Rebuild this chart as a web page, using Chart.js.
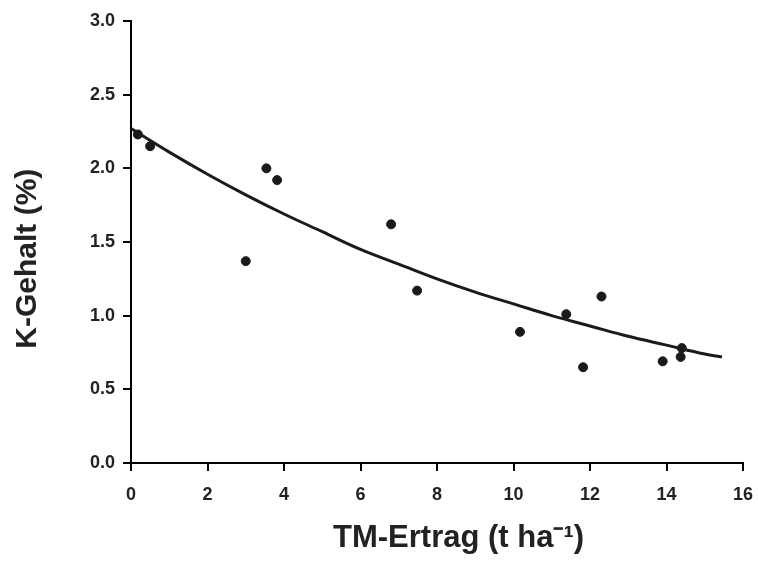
<!DOCTYPE html>
<html>
<head>
<meta charset="utf-8">
<script src="https://cdn.jsdelivr.net/npm/chart.js@4/dist/chart.umd.min.js"></script>
<style>
  html, body { margin: 0; padding: 0; background: #fff; }
</style>
</head>
<body>
<canvas id="chartK" width="758" height="561"></canvas>
<script>
// measured points
const ertrag = [0.18, 0.50, 3.00, 3.54, 3.82, 6.80, 7.48, 10.17, 11.38, 11.82, 12.30, 13.90, 14.37, 14.40]
const kGehalt = [2.23, 2.15, 1.37, 2.00, 1.92, 1.62, 1.17, 0.89, 1.01, 0.65, 1.13, 0.69, 0.72, 0.78]

// fitted curve
const kurveX = [0, 1, 2, 3, 4, 5, 6, 7, 8, 9, 10, 11, 12, 13, 14, 15, 15.45]
const kurveY = [2.27, 2.11, 1.96, 1.82, 1.69, 1.57, 1.45, 1.35, 1.25, 1.16, 1.08, 1.00, 0.93, 0.86, 0.80, 0.74, 0.72]

const xTicks = [0, 2, 4, 6, 8, 10, 12, 14, 16]
const yTicks = [0, 0.5, 1.0, 1.5, 2.0, 2.5, 3.0]

const black = '#000000'
const textColor = '#222222'
const fontName = '"Liberation Sans", Arial, sans-serif'

const ctx = document.getElementById('chartK')

new Chart(ctx, {
    type: 'scatter',
    data: {
        datasets: [{
            data: ertrag.map((x, i) => ({ x: x, y: kGehalt[i] })),
            backgroundColor: '#1a1a1a',
            borderColor: '#1a1a1a',
            pointRadius: 4.5,
            pointHoverRadius: 4.5,
            order: 1
        }, {
            data: kurveX.map((x, i) => ({ x: x, y: kurveY[i] })),
            showLine: true,
            borderColor: '#1a1a1a',
            borderWidth: 3,
            pointRadius: 0,
            tension: 0.4,
            fill: false,
            clip: false,
            order: 2
        }]
    },
    options: {
        responsive: false,
        animation: false,
        events: [],
        layout: {
            padding: { left: 6, right: 15, top: 21, bottom: 0 }
        },
        plugins: {
            legend: { display: false },
            tooltip: { enabled: false }
        },
        scales: {
            x: {
                type: 'linear',
                min: 0,
                max: 16,
                afterBuildTicks: axis => { axis.ticks = xTicks.map(v => ({ value: v })) },
                afterFit: axis => {
                    axis.height = 98
                    axis.paddingLeft = 0
                    axis.paddingRight = 0
                },
                border: { display: true, color: black, width: 2 },
                grid: { drawOnChartArea: false, drawTicks: true, tickLength: 8, color: black, lineWidth: 2 },
                ticks: {
                    color: textColor,
                    padding: 13,
                    maxRotation: 0,
                    font: { family: fontName, size: 18, weight: 'bold' }
                },
                title: {
                    display: true,
                    // leading spaces push the title a bit right, as in the original
                    text: '     TM-Ertrag (t ha⁻¹)',
                    color: textColor,
                    padding: { top: 4, bottom: 4 },
                    font: { family: fontName, size: 31, weight: 'bold' }
                }
            },
            y: {
                type: 'linear',
                min: 0,
                max: 3,
                afterBuildTicks: axis => { axis.ticks = yTicks.map(v => ({ value: v })) },
                afterFit: axis => {
                    axis.width = 125
                    axis.paddingTop = 0
                    axis.paddingBottom = 0
                },
                border: { display: true, color: black, width: 2 },
                grid: { drawOnChartArea: false, drawTicks: true, tickLength: 8, color: black, lineWidth: 2 },
                ticks: {
                    color: textColor,
                    padding: 8,
                    callback: v => v.toFixed(1),
                    font: { family: fontName, size: 18, weight: 'bold' }
                },
                title: {
                    display: true,
                    // trailing spaces move the rotated title down a little
                    text: 'K-Gehalt (%)    ',
                    color: textColor,
                    padding: { top: 4, bottom: 4 },
                    font: { family: fontName, size: 30, weight: 'bold' }
                }
            }
        }
    }
})
</script>
</body>
</html>
